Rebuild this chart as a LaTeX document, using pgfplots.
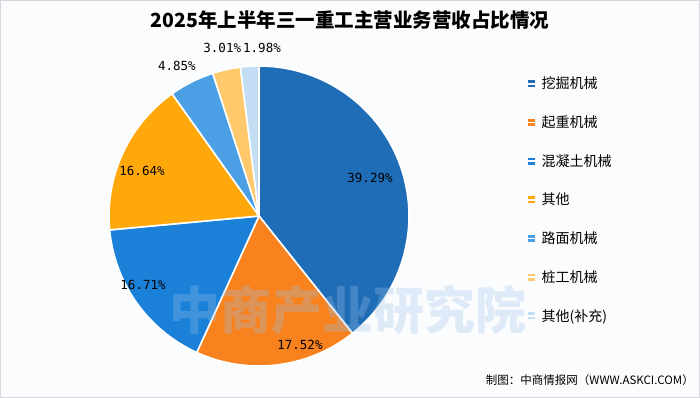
\documentclass[border=0pt]{standalone}
\usepackage{pgfplots}
\pgfplotsset{compat=1.18}
\usepackage{fontspec}
\setmainfont{Noto Sans CJK SC}
\newfontfamily\cjk{Noto Sans CJK SC}
\newfontfamily\mono{DejaVu Sans Mono}
\definecolor{cA}{HTML}{1E6DB6}
\definecolor{cB}{HTML}{F7821E}
\definecolor{cC}{HTML}{1A80D8}
\definecolor{cD}{HTML}{FFA80C}
\definecolor{cE}{HTML}{4A9FE5}
\definecolor{cF}{HTML}{FFC86A}
\definecolor{cG}{HTML}{C3DDF5}
\definecolor{bgc}{HTML}{FBFCFE}
\definecolor{bordc}{HTML}{D6D8DC}
\definecolor{wmc}{HTML}{9CC3E8}
% shares (%), clockwise from 12 o'clock
\def\vA{39.29}\def\vB{17.52}\def\vC{16.71}\def\vD{16.64}\def\vE{4.85}\def\vF{3.01}\def\vG{1.98}
\pgfmathsetmacro\tA{90}
\pgfmathsetmacro\tB{\tA-3.6*\vA}
\pgfmathsetmacro\tC{\tB-3.6*\vB}
\pgfmathsetmacro\tD{\tC-3.6*\vC}
\pgfmathsetmacro\tE{\tD-3.6*\vD}
\pgfmathsetmacro\tF{\tE-3.6*\vE}
\pgfmathsetmacro\tG{\tF-3.6*\vF}
\pgfmathsetmacro\tH{\tG-3.6*\vG}
\begin{document}
\begin{tikzpicture}[x=1pt,y=1pt]
\fill[bgc] (0,0) rectangle (700,398);
\draw[bordc, line width=1pt] (0.5,0.5) rectangle (699.5,397.5);
\begin{axis}[
  at={(259pt,182pt)}, anchor=origin,
  hide axis, scale only axis, width=300pt, height=300pt,
  xmin=-1, xmax=1, ymin=-1, ymax=1, clip=false, no markers,
  wedge/.style={draw=white, line width=1.6pt, line join=round, samples=90},
  legend image code/.code={\path[#1, draw=none] (0pt,-3.5pt) rectangle (7pt,3.5pt); \path (0pt,0pt) -- (12pt,0pt);},
  legend cell align=left,
  legend style={at={(rel axis cs:1.393,0.967)}, anchor=north west, draw=none, fill=none,
    font=\cjk\fontsize{14}{14}\selectfont, row sep=23.4pt, inner sep=0pt,
    nodes={inner sep=1pt}},
]
\addplot[wedge, fill=cA, domain=\tB:\tA] ({cos(x)},{sin(x)}) -- (axis cs:0,0) -- cycle;
\addlegendentry{挖掘机械}
\addplot[wedge, fill=cB, domain=\tC:\tB] ({cos(x)},{sin(x)}) -- (axis cs:0,0) -- cycle;
\addlegendentry{起重机械}
\addplot[wedge, fill=cC, domain=\tD:\tC] ({cos(x)},{sin(x)}) -- (axis cs:0,0) -- cycle;
\addlegendentry{混凝土机械}
\addplot[wedge, fill=cD, domain=\tE:\tD] ({cos(x)},{sin(x)}) -- (axis cs:0,0) -- cycle;
\addlegendentry{其他}
\addplot[wedge, fill=cE, domain=\tF:\tE] ({cos(x)},{sin(x)}) -- (axis cs:0,0) -- cycle;
\addlegendentry{路面机械}
\addplot[wedge, fill=cF, domain=\tG:\tF] ({cos(x)},{sin(x)}) -- (axis cs:0,0) -- cycle;
\addlegendentry{桩工机械}
\addplot[wedge, fill=cG, domain=\tH:\tG] ({cos(x)},{sin(x)}) -- (axis cs:0,0) -- cycle;
\addlegendentry{其他(补充)}
\begin{scope}[every node/.style={font=\mono\fontsize{12.5}{12.5}\selectfont, inner sep=0pt}]
\node at (axis cs:0.74,0.253) {39.29\%};
\node at (axis cs:0.273,-0.86) {17.52\%};
\node at (axis cs:-0.773,-0.46) {16.71\%};
\node at (axis cs:-0.78,0.30) {16.64\%};
\node at (axis cs:-0.547,1.0) {4.85\%};
\node at (axis cs:-0.245,1.12) {3.01\%};
\node at (axis cs:0.02,1.12) {1.98\%};
\end{scope}
\end{axis}
\node[wmc, opacity=0.3, font=\cjk\fontsize{51}{51}\selectfont\bfseries, inner sep=0pt] at (348,88) {中商产业研究院};
\node[font=\cjk\fontsize{19.5}{19.5}\selectfont\bfseries, inner sep=0pt] at (350,378) {2025年上半年三一重工主营业务营收占比情况};
\node[font=\cjk\fontsize{11.5}{11.5}\selectfont, anchor=east, inner sep=0pt] at (694,18) {制图：中商情报网（WWW.ASKCI.COM）};
\end{tikzpicture}
\end{document}
